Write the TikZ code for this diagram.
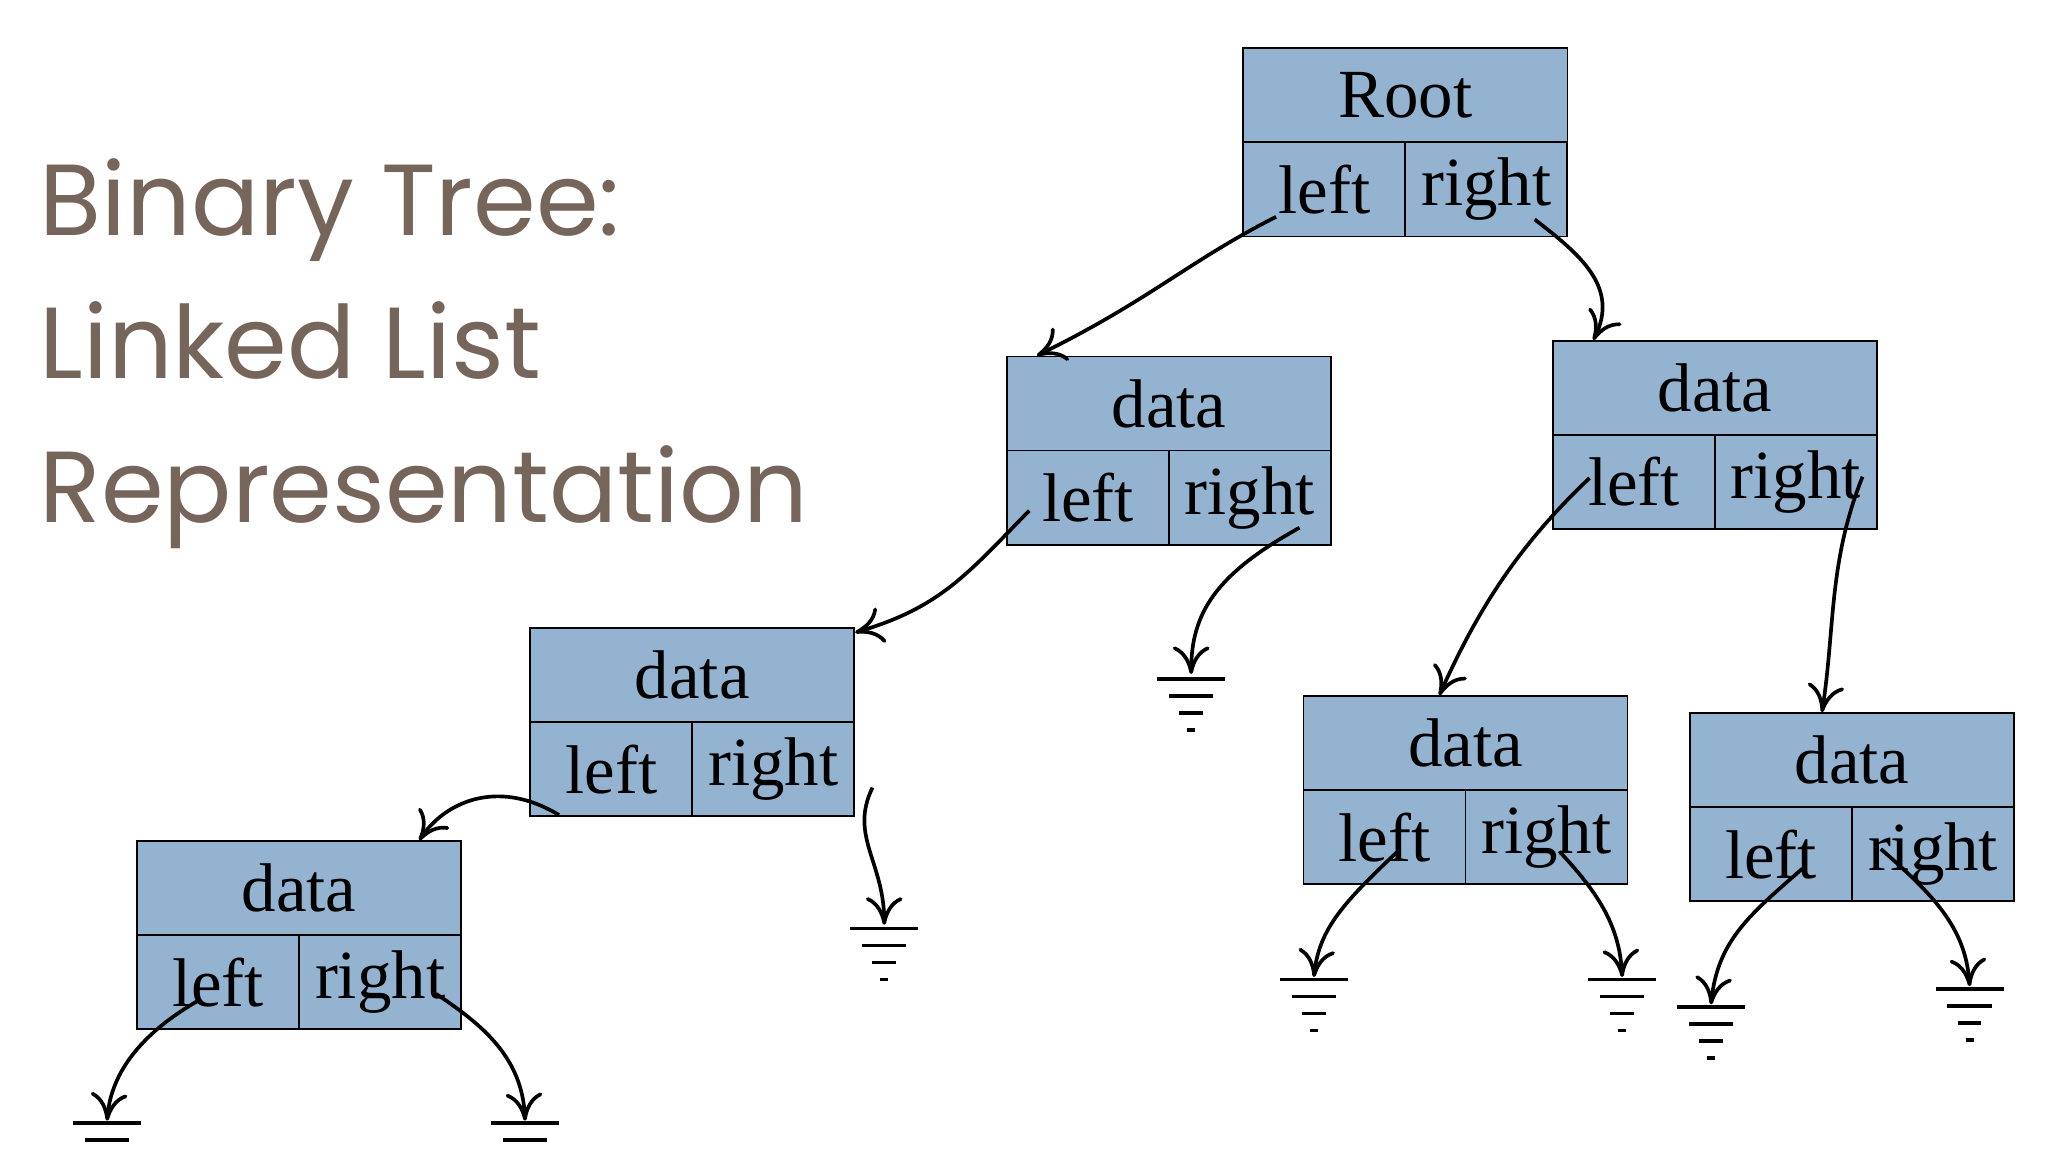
\documentclass[tikz,border=0pt]{standalone}
\usepackage{fontspec}
\setmainfont{Liberation Serif}
\newfontfamily\titlefont{Poppins}
\usetikzlibrary{arrows.meta}
\definecolor{cellblue}{HTML}{93B3D0}
\definecolor{titlebrown}{HTML}{76655B}
\tikzset{
  cell/.style={draw=black, fill=cellblue, inner sep=0pt, font=\fontsize{15}{15}\selectfont},
  head/.style={cell, minimum width=2.48cm, minimum height=0.72cm},
  half/.style={cell, minimum width=1.24cm, minimum height=0.72cm},
  link/.style={-{To[length=6pt,width=8pt]}, thick},
  gnd/.style={thick}
}
% box: name, left x, top y, head text
\newcommand*{\treebox}[4]{%
  \node[head] (#1-d) at (#2+124,#3+36) {#4};
  \node[half] (#1-l) at (#2+62,#3+108) {left};
  \node[half] (#1-r) at (#2+186,#3+108) {right};
}
% ground: name, centre x, top y
\newcommand*{\grnd}[3]{%
  \coordinate (#1) at (#2,#3);
  \draw[gnd] (#2-26,#3) -- (#2+26,#3);
  \draw[gnd] (#2-17,#3+13) -- (#2+17,#3+13);
  \draw[gnd] (#2-9,#3+26) -- (#2+9,#3+26);
  \draw[gnd] (#2-3,#3+39) -- (#2+3,#3+39);
}

\begin{document}
\begin{tikzpicture}[x=0.01cm, y=-0.01cm]

\useasboundingbox (0,0) rectangle (1568,882);

% Title
\node[anchor=base west, text=titlebrown, font=\titlefont\fontsize{22}{22}\selectfont] (t1) at (18,180) {Binary Tree:};
\node[anchor=base west, text=titlebrown, font=\titlefont\fontsize{22}{22}\selectfont] (t2) at (18,290) {Linked List};
\node[anchor=base west, text=titlebrown, font=\titlefont\fontsize{22}{22}\selectfont] (t3) at (18,400) {Representation};

% Boxes
\treebox{root}{952}{37}{Root}
\treebox{na}{771}{273}{data}
\treebox{nb}{1189}{261}{data}
\treebox{nc}{406}{481}{data}
\treebox{nd}{998}{533}{data}
\treebox{ne}{1294}{546}{data}
\treebox{nf}{105}{644}{data}

% Grounds
\grnd{ga}{912}{520}
\grnd{gc}{677}{711}
\grnd{gd1}{1006}{750}
\grnd{gd2}{1242}{750}
\grnd{ge1}{1310}{771}
\grnd{ge2}{1508}{757}
\grnd{gf1}{82}{860}
\grnd{gf2}{402}{860}

% Pointers
\draw[link] ([shift={(-37,21)}]root-l.center) .. controls (910,200) and (880,230) .. ([xshift=-1.01cm]na-d.north);
\draw[link] ([shift={(37,23)}]root-r.center) .. controls (1210,195) and (1240,220) .. ([xshift=-0.93cm]nb-d.north);
\draw[link] ([shift={(-45,10)}]na-l.center) .. controls (740,440) and (720,465) .. ([yshift=-0.04cm]nc-d.north east);
\draw[link] ([shift={(38,23)}]na-r.center) .. controls (930,440) and (912,470) .. ([yshift=0.04cm]ga);
\draw[link] ([shift={(-34,-3)}]nb-l.center) .. controls (1160,420) and (1130,470) .. ([xshift=-0.2cm]nd-d.north);
\draw[link] ([shift={(51,-4)}]nb-r.center) .. controls (1400,430) and (1405,480) .. ([xshift=-0.23cm]ne-d.north);
\draw[link] ([shift={(-40,35)}]nc-l.center) .. controls (380,595) and (340,615) .. ([xshift=0.92cm]nf-d.north);
\draw[link] ([shift={(76,14)}]nc-r.center) .. controls (650,640) and (677,660) .. ([yshift=0.03cm]gc);
\draw[link] ([shift={(12,9)}]nd-l.center) .. controls (1030,690) and (1010,710) .. ([yshift=0.02cm]gd1);
\draw[link] ([shift={(10,11)}]nd-r.center) .. controls (1225,685) and (1240,710) .. ([yshift=0.02cm]gd2);
\draw[link] ([shift={(24,11)}]ne-l.center) .. controls (1340,700) and (1315,720) .. ([yshift=0.02cm]ge1);
\draw[link] ([shift={(-40,-4)}]ne-r.center) .. controls (1480,685) and (1505,710) .. ([yshift=0.02cm]ge2);
\draw[link] ([shift={(-15,14)}]nf-l.center) .. controls (110,790) and (85,820) .. ([yshift=0.02cm]gf1);
\draw[link] ([shift={(43,9)}]nf-r.center) .. controls (370,785) and (400,810) .. ([yshift=0.02cm]gf2);

\end{tikzpicture}
\end{document}
